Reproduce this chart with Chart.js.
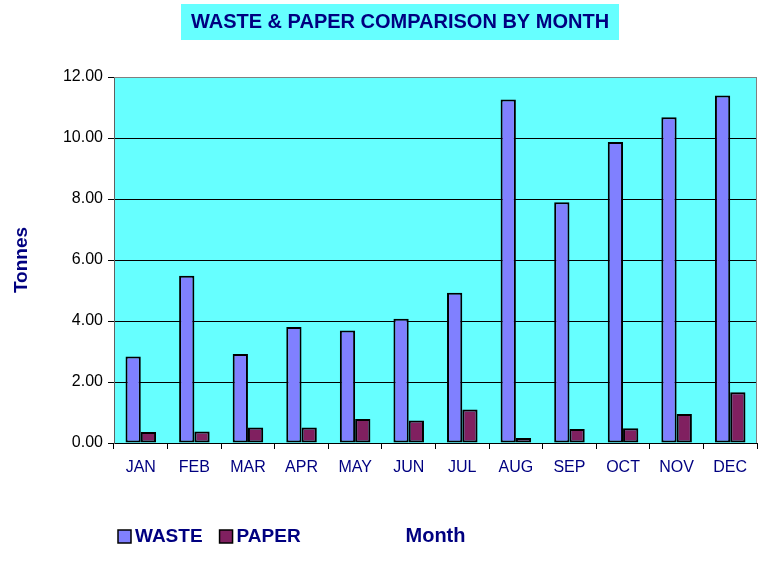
<!DOCTYPE html>
<html>
<head>
<meta charset="utf-8">
<script src="https://cdn.jsdelivr.net/npm/chart.js@4/dist/chart.umd.min.js"></script>
<style>
  html, body { margin: 0; padding: 0; background: #fff; }
  #wrap { width: 774px; height: 561px; }
</style>
</head>
<body>
<div id="wrap"><canvas id="chart" width="774" height="561"></canvas></div>
<script>
const months = ["JAN", "FEB", "MAR", "APR", "MAY", "JUN", "JUL", "AUG", "SEP", "OCT", "NOV", "DEC"];
const waste = [2.84, 5.48, 2.92, 3.80, 3.69, 4.07, 4.93, 11.26, 7.89, 9.87, 10.68, 11.39];
const paper = [0.36, 0.38, 0.51, 0.51, 0.79, 0.74, 1.10, 0.16, 0.46, 0.48, 0.95, 1.66];
const yTicks = [0, 2, 4, 6, 8, 10, 12];

const FONT = "Arial, 'Liberation Sans', sans-serif";
const NAVY = "#000080";

// plot background, border, title and legend
const decor = {
  id: "decor",
  beforeDraw(chart) {
    const c = chart.ctx, a = chart.chartArea;
    c.save();
    c.fillStyle = "#66FFFF";
    c.fillRect(a.left, a.top, a.right - a.left, a.bottom - a.top);
    // title box
    c.fillRect(181, 4, 438, 36);
    c.fillStyle = NAVY;
    c.font = "bold 20px " + FONT;
    c.textAlign = "center";
    c.textBaseline = "middle";
    c.fillText("WASTE & PAPER COMPARISON BY MONTH", 400, 22);
    c.restore();
  },
  afterDraw(chart) {
    const c = chart.ctx, a = chart.chartArea;
    c.save();
    c.strokeStyle = "#808080";
    c.lineWidth = 1;
    c.beginPath();
    c.moveTo(a.left, a.top + 0.5);
    c.lineTo(a.right - 0.5, a.top + 0.5);
    c.lineTo(a.right - 0.5, a.bottom);
    c.stroke();
    // legend
    let x = 118;
    c.font = "bold 19px " + FONT;
    c.textBaseline = "middle";
    c.textAlign = "left";
    chart.data.datasets.forEach(ds => {
      c.fillStyle = ds.backgroundColor;
      c.fillRect(x, 530, 13, 13);
      c.strokeStyle = "#000";
      c.lineWidth = 1.5;
      c.strokeRect(x, 530, 13, 13);
      c.fillStyle = NAVY;
      c.fillText(ds.label, x + 17, 537);
      x += 17 + c.measureText(ds.label).width + 17;
    });
    c.restore();
  }
};

new Chart(document.getElementById("chart"), {
  type: "bar",
  data: {
    labels: months,
    datasets: [
      { label: "WASTE", data: waste, backgroundColor: "#8080FF", borderColor: "#000", borderWidth: 2, borderSkipped: false },
      { label: "PAPER", data: paper, backgroundColor: "#802060", borderColor: "#000", borderWidth: 2, borderSkipped: false }
    ]
  },
  options: {
    responsive: false,
    animation: false,
    layout: { padding: { top: 77, right: 17, left: 0, bottom: 0 } },
    datasets: { bar: { categoryPercentage: 0.57, barPercentage: 1.0 } },
    plugins: {
      legend: { display: false },
      title: { display: false },
      tooltip: { enabled: false }
    },
    scales: {
      x: {
        grid: { offset: true, drawOnChartArea: false, drawTicks: true, tickLength: 6, color: "#000" },
        border: { color: "#000", width: 1 },
        ticks: { color: NAVY, font: { family: FONT, size: 16 }, padding: 9 },
        title: { display: true, text: "Month", color: NAVY, font: { family: FONT, size: 20, weight: "bold" }, padding: { top: 0, bottom: 13 } },
        afterFit(scale) { scale.height = 561 - 443; }
      },
      y: {
        min: 0, max: 12,
        afterBuildTicks(scale) { scale.ticks = yTicks.map(v => ({ value: v })); },
        grid: {
          color: ctx => (ctx.tick && ctx.tick.value === 12 ? "#808080" : "#000"),
          tickColor: "#000",
          tickLength: 6,
          lineWidth: 1
        },
        border: { color: "#606060", width: 1 },
        ticks: {
          color: "#000",
          font: { family: FONT, size: 16 },
          padding: 5,
          callback: v => Number(v).toFixed(2)
        },
        title: { display: true, text: "Tonnes", color: NAVY, font: { family: FONT, size: 19, weight: "bold" }, padding: { top: 10, bottom: 10 } },
        afterFit(scale) { scale.width = 114; }
      }
    }
  },
  plugins: [decor]
});
</script>
</body>
</html>
